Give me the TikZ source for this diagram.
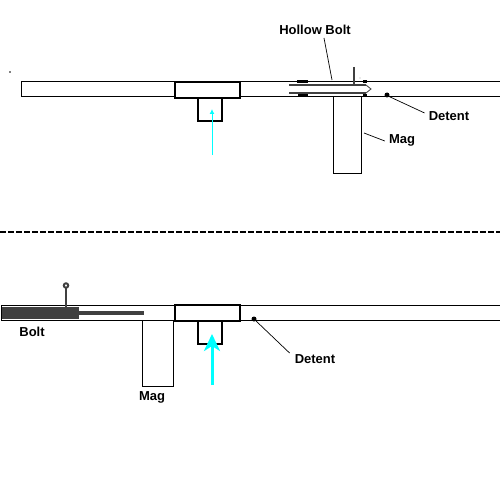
\documentclass[tikz,border=0pt]{standalone}
\usepackage{fontspec}
\setmainfont{Liberation Sans}
\usetikzlibrary{arrows.meta,positioning,calc}
\definecolor{boltgrey}{RGB}{64,64,64}
\definecolor{arrowcyan}{RGB}{0,255,255}

\begin{document}
\begin{tikzpicture}[
  x=1pt, y=-1pt,
  tube/.style={draw, line width=1pt},
  housing/.style={draw, line width=2pt, fill=white},
  magbox/.style={draw, line width=1pt, fill=white},
  lbl/.style={font=\bfseries\fontsize{13}{15}\selectfont, inner sep=0pt},
  leader/.style={line width=0.7pt},
  bolt/.style={draw=boltgrey, line width=2.5pt},
  latch/.style={line width=3pt},
  push/.style={-{Latex[length=5pt,width=5pt]}, arrowcyan, line width=1pt},
  pushbig/.style={-{Stealth[length=17pt,width=16pt,inset=5pt]}, arrowcyan, line width=3pt}
]
\useasboundingbox (0,0) rectangle (500,500);
\fill[white] (0,0) rectangle (500,500);

% upper view
\draw[tube] (500,82) -- (21,82) -- (21,96.5) -- (500,96.5);
\draw[magbox] (333,96.5) rectangle (361,173);
\draw[housing] (198,97) rectangle (222,121);
\draw[housing] (175,82) rectangle (240,98);
\fill (10,72) circle (0.8);
\fill (360,78) circle (0.4);

\draw[latch] (297,82) -- (308,82) (298,96) -- (308,96);
\draw[latch] (363,82) -- (367,82) (363,96) -- (367,96);
\draw[bolt] (289,85) -- (366,85);
\draw[bolt] (289,93) -- (366,93);
\draw[boltgrey, line width=0.8pt] (366,85) -- (371,89) -- (366,93);
\draw[bolt] (354,67) -- (354,85);
\fill (387,95) circle (2.5);

\coordinate (hollowend) at (332,80);
\coordinate (detentend) at (388,96);
\coordinate (magend) at (364,133);
\coordinate (pushstart) at (212,155);
\coordinate (pushend) at (212,109);
\node[lbl] (hollow) at (315,30) {Hollow Bolt};
\node[lbl] (detent) at (449,116) {Detent};
\node[lbl] (mag) at (402,140) {Mag};
\draw[leader] (324,38) -- (hollowend);
\draw[leader] (detent.west) ++(-4,-3) -- (detentend);
\draw[leader] (mag.west) ++(-4,1) -- (magend);
\draw[push] (pushstart) -- (pushend);

% divider
\draw[line width=1.5pt, dash pattern=on 6pt off 2pt] (0,232) -- (500,232);

% lower view
\draw[tube] (500,305) -- (1,305) -- (1,320) -- (500,320);
\draw[magbox] (142,320) rectangle (173,386);
\draw[housing] (198,320) rectangle (222,344);
\draw[housing] (175,305) rectangle (240,321);

\fill[boltgrey] (2,307) rectangle (79,319);
\fill[boltgrey] (79,311) rectangle (144,315);
\draw[bolt] (66,288) -- (66,307);
\draw[boltgrey, line width=2pt] (66,285.5) circle (2.2);
\fill (254,319) circle (2.5);

\coordinate (detentendb) at (255,320);
\coordinate (pushstartb) at (212,385);
\coordinate (pushendb) at (212,334);
\node[lbl] (boltb) at (32,332) {Bolt};
\node[lbl] (magb) at (152,397) {Mag};
\node[lbl] (detentb) at (315,359) {Detent};
\draw[leader] (detentb.west) ++(-5,-6) -- (detentendb);
\draw[pushbig] (pushstartb) -- (pushendb);

\end{tikzpicture}
\end{document}
